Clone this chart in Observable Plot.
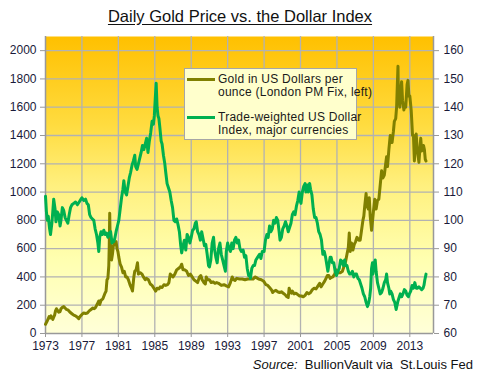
<!DOCTYPE html>
<html><head><meta charset="utf-8">
<script src="https://cdn.jsdelivr.net/npm/d3@7"></script>
<script src="https://cdn.jsdelivr.net/npm/@observablehq/plot@0.6"></script>
<style>
body{margin:0;width:480px;height:378px;background:#fff;position:relative;font-family:"Liberation Sans",Arial,sans-serif;overflow:hidden}
#title{height:30px;position:relative}
#title span{position:absolute;left:0;width:480px;text-align:center;top:7px;font-size:16.5px;color:#111;text-decoration:underline;text-underline-offset:2px}
#chart svg{display:block}
#caption{position:absolute;right:7px;top:357px;font-size:13px;color:#111}
#legend{position:absolute;left:184px;top:68px;width:173px;height:72px;background:#FFFFCC;border:1px solid #a6a6a6;box-sizing:border-box}
.item{position:absolute;left:2px;font-size:12px;line-height:13px;color:#1a1a1a;letter-spacing:0.25px}
.item .sw{position:absolute;left:0;top:5px;width:28px;height:3px}
.item .tx{position:absolute;left:31px;top:0;white-space:nowrap}
</style></head>
<body>
<div id="title"><span>Daily Gold Price vs. the Dollar Index</span></div>
<div id="chart"></div>
<div id="legend"></div>
<div id="caption"><i>Source:</i>&nbsp; BullionVault via&nbsp; St.Louis Fed</div>
<script>
const xTicks = [1973,1977,1981,1985,1989,1993,1997,2001,2005,2009,2013];
const leftTicks = [0,200,400,600,800,1000,1200,1400,1600,1800,2000];
const rightTicks = [60,70,80,90,100,110,120,130,140,150,160];
const seriesNames = ["Gold in US Dollars per\nounce (London PM Fix, left)", "Trade-weighted US Dollar\nIndex, major currencies"];
const seriesColors = ["#808000", "#00B050"];

const goldYears = [1973.0,1973.2,1973.4,1973.5,1973.6,1973.8,1973.9,1974.0,1974.1,1974.2,1974.3,1974.45,1974.6,1974.7,1974.85,1975.0,1975.15,1975.3,1975.5,1975.7,1975.9,1976.1,1976.3,1976.5,1976.65,1976.8,1977.0,1977.2,1977.4,1977.6,1977.8,1978.0,1978.2,1978.35,1978.5,1978.7,1978.85,1978.95,1979.1,1979.3,1979.5,1979.65,1979.75,1979.85,1979.95,1980.0,1980.05,1980.1,1980.2,1980.25,1980.35,1980.45,1980.6,1980.75,1980.85,1980.95,1981.05,1981.2,1981.35,1981.5,1981.65,1981.8,1981.95,1982.1,1982.3,1982.45,1982.55,1982.7,1982.8,1982.95,1983.1,1983.2,1983.4,1983.6,1983.75,1983.95,1984.1,1984.3,1984.5,1984.7,1984.9,1985.1,1985.25,1985.45,1985.6,1985.8,1986.0,1986.2,1986.4,1986.55,1986.7,1986.85,1987.0,1987.2,1987.4,1987.6,1987.8,1987.95,1988.1,1988.3,1988.5,1988.7,1988.9,1989.1,1989.3,1989.5,1989.7,1989.9,1990.05,1990.2,1990.4,1990.55,1990.65,1990.8,1991.0,1991.2,1991.4,1991.6,1991.8,1992.0,1992.3,1992.6,1992.9,1993.1,1993.3,1993.5,1993.65,1993.8,1994.0,1994.3,1994.6,1994.9,1995.2,1995.5,1995.8,1996.0,1996.15,1996.4,1996.7,1996.95,1997.2,1997.4,1997.6,1997.8,1997.95,1998.1,1998.3,1998.5,1998.7,1998.9,1999.1,1999.3,1999.5,1999.65,1999.75,1999.85,2000.0,2000.1,2000.3,2000.5,2000.7,2000.9,2001.1,2001.3,2001.5,2001.7,2001.9,2002.1,2002.3,2002.5,2002.7,2002.9,2003.1,2003.25,2003.45,2003.65,2003.8,2003.95,2004.1,2004.25,2004.35,2004.55,2004.75,2004.9,2005.0,2005.2,2005.4,2005.6,2005.8,2005.95,2006.1,2006.25,2006.35,2006.45,2006.6,2006.75,2006.9,2007.05,2007.2,2007.4,2007.55,2007.7,2007.85,2007.95,2008.05,2008.2,2008.3,2008.45,2008.55,2008.65,2008.8,2008.85,2009.0,2009.15,2009.3,2009.45,2009.6,2009.75,2009.9,2010.05,2010.2,2010.35,2010.45,2010.55,2010.7,2010.85,2010.95,2011.05,2011.2,2011.3,2011.45,2011.55,2011.65,2011.7,2011.75,2011.8,2011.9,2012.0,2012.1,2012.2,2012.35,2012.45,2012.55,2012.7,2012.8,2012.9,2013.0,2013.15,2013.3,2013.4,2013.5,2013.6,2013.7,2013.8,2013.9,2014.0,2014.1,2014.2,2014.3,2014.4,2014.5,2014.6,2014.7,2014.78];
const goldPrices = [65,90,120,110,125,100,115,130,160,175,165,150,155,175,185,190,180,170,165,150,140,130,125,115,105,120,135,145,142,145,160,170,180,175,185,210,230,205,235,245,280,300,380,390,480,620,850,660,560,520,560,620,640,650,600,580,540,490,470,430,440,400,400,380,340,320,300,400,440,450,500,420,430,420,400,380,390,380,350,340,320,300,320,315,330,325,345,340,345,360,420,410,400,420,450,460,470,490,450,450,440,410,420,400,380,370,360,400,410,380,360,350,400,380,380,360,365,355,360,355,340,345,335,330,360,400,380,375,390,385,385,380,385,385,385,400,395,385,380,370,345,340,325,310,290,300,305,295,290,295,285,275,260,255,320,300,285,300,280,285,275,265,265,260,270,290,280,290,310,320,315,335,355,330,350,370,390,410,410,390,395,400,420,450,430,430,430,440,480,510,560,610,710,580,640,590,630,650,680,660,660,730,800,830,900,990,900,880,960,830,730,760,860,950,880,940,950,1050,1150,1100,1120,1200,1250,1180,1300,1400,1380,1350,1430,1500,1520,1600,1800,1890,1640,1750,1600,1720,1780,1650,1580,1620,1600,1760,1790,1680,1680,1580,1400,1400,1220,1330,1410,1310,1260,1210,1300,1380,1290,1300,1330,1300,1230,1220];

const usdYears = [1973.0,1973.1,1973.2,1973.3,1973.45,1973.55,1973.7,1973.8,1973.9,1974.05,1974.15,1974.3,1974.45,1974.6,1974.7,1974.85,1975.0,1975.15,1975.3,1975.45,1975.6,1975.75,1975.9,1976.1,1976.3,1976.5,1976.7,1976.9,1977.0,1977.2,1977.4,1977.55,1977.7,1977.85,1978.0,1978.15,1978.3,1978.45,1978.6,1978.75,1978.85,1978.95,1979.1,1979.25,1979.4,1979.55,1979.7,1979.85,1980.0,1980.15,1980.3,1980.4,1980.5,1980.6,1980.75,1980.9,1981.05,1981.2,1981.35,1981.5,1981.6,1981.75,1981.9,1982.05,1982.2,1982.35,1982.5,1982.65,1982.8,1982.9,1983.05,1983.2,1983.35,1983.5,1983.65,1983.8,1983.95,1984.1,1984.25,1984.4,1984.55,1984.7,1984.85,1984.95,1985.05,1985.15,1985.25,1985.35,1985.45,1985.55,1985.7,1985.8,1985.95,1986.1,1986.2,1986.35,1986.5,1986.65,1986.8,1986.95,1987.1,1987.25,1987.4,1987.55,1987.7,1987.85,1987.95,1988.1,1988.25,1988.4,1988.55,1988.7,1988.85,1989.0,1989.15,1989.3,1989.45,1989.55,1989.7,1989.85,1990.0,1990.15,1990.3,1990.45,1990.6,1990.75,1990.9,1991.0,1991.15,1991.3,1991.45,1991.55,1991.7,1991.85,1992.0,1992.15,1992.3,1992.45,1992.6,1992.75,1992.85,1993.0,1993.15,1993.3,1993.45,1993.6,1993.75,1993.9,1994.05,1994.2,1994.35,1994.5,1994.7,1994.85,1995.0,1995.15,1995.3,1995.4,1995.5,1995.65,1995.8,1995.95,1996.1,1996.3,1996.5,1996.65,1996.8,1997.0,1997.15,1997.3,1997.45,1997.6,1997.75,1997.9,1998.05,1998.2,1998.35,1998.5,1998.65,1998.75,1998.9,1999.05,1999.2,1999.35,1999.5,1999.65,1999.8,1999.95,2000.1,2000.25,2000.4,2000.55,2000.7,2000.85,2000.95,2001.05,2001.2,2001.35,2001.5,2001.6,2001.75,2001.85,2002.0,2002.1,2002.25,2002.4,2002.55,2002.7,2002.85,2003.0,2003.15,2003.3,2003.45,2003.6,2003.75,2003.9,2004.0,2004.1,2004.25,2004.35,2004.5,2004.65,2004.8,2004.95,2005.1,2005.25,2005.4,2005.55,2005.7,2005.85,2005.95,2006.1,2006.25,2006.4,2006.55,2006.7,2006.85,2007.0,2007.15,2007.3,2007.45,2007.6,2007.75,2007.9,2008.05,2008.2,2008.35,2008.5,2008.6,2008.7,2008.8,2008.9,2008.95,2009.05,2009.2,2009.3,2009.45,2009.6,2009.75,2009.9,2010.05,2010.2,2010.35,2010.45,2010.55,2010.7,2010.8,2010.9,2011.05,2011.2,2011.35,2011.5,2011.6,2011.7,2011.85,2011.95,2012.1,2012.25,2012.4,2012.55,2012.7,2012.85,2012.95,2013.1,2013.25,2013.4,2013.55,2013.7,2013.85,2014.0,2014.15,2014.3,2014.45,2014.55,2014.65,2014.78];
const usdIndex = [108.5,103,100,101.5,97,95,99,103,107.5,104,99.5,103,102,98,100,104.5,103.5,101,100,99,102,104.5,105.5,106,106.5,105.5,106.5,107.5,108,107,107.5,106,105.5,102,101,100.5,100,97,95,92,89,94,96,95,96.5,95,95.5,94,95.5,96,92,93,92.5,93.5,96,98,100,104,108,111,114,110,109,112,115,117,119.5,121,123,119,118,120,122,124,126.5,125,127,129,124,128,131,135,134,137,143,148.5,140,137,136,133,128,127,123,120,117,113,111.5,110,107,104.5,100,99.5,100.5,98.5,96,91,88.5,91,93,89.5,95,94,92,94,96.5,97,99,99.5,96,95,93,96,93.5,91,91.5,88,84,83.5,86,92,94,90,87,85,90,92,88,86,84,82,89,92,90,89,92,90,93,94,92,93,90,89,89.5,87,87.5,83,80.5,81,79.5,83,84,84,86,87,88,86.5,89,89,93,95,94,98,96,97,100,99,101,100,96,93,94,97,98,99.5,98,96,97.5,99,102,103,102,105,107,110,107,106,110,112,113,110,112.5,110,113,111,109,104,101,101,99,96,95,93,88,89,87,84,82,84,87,87,85,85,82,80.5,82,83,86,85.5,84,86,84,84,82,81,81,82,80,81,81,79.5,79,77.5,76,74,73,71,69.5,71,73,76,83,85,81,84,86,82,78,76,74,74.5,76,78,79,81,78,76,74,75,74,72,71,68.5,70,71.5,73,74,73,74,75.5,75,73.5,73,74,75,77,76,78,76,76,76.5,76,75.5,76,77,79,81];

const gold = goldYears.map((t,i) => ({t, v: goldPrices[i]}));
const usd = usdYears.map((t,i) => ({t, v: usdIndex[i]}));
const xDomain = [1973, 2015.6];
const yDomain = [0, 2100];
const toLeft = v => (v - 60) * 20;

const svg = Plot.plot({
  width: 480, height: 325,
  marginTop: 6, marginLeft: 45, marginRight: 47, marginBottom: 22,
  style: {fontFamily: '"Liberation Sans", Arial, sans-serif', fontSize: "12px", color: "#1a1a3a", background: "transparent", overflow: "visible"},
  x: {domain: xDomain},
  y: {domain: yDomain},
  marks: [
    Plot.frame({fill: "url(#goldbg)", stroke: null}),
    Plot.gridX(xTicks.slice(1), {stroke: "#b2b2b2", strokeOpacity: 1, strokeWidth: 1.3}),
    Plot.gridY(leftTicks.slice(1), {stroke: "#b2b2b2", strokeOpacity: 1, strokeWidth: 1.3}),
    Plot.ruleX([xDomain[0], xDomain[1]], {stroke: "#999", strokeWidth: 1.5}),
    Plot.ruleY([yDomain[0]], {stroke: "#999", strokeWidth: 1.5}),
    Plot.axisX(xTicks, {tickFormat: d => String(d), tickSize: 4, tickPadding: 4, stroke: "#999", label: null, fill: "#1a1a3a"}),
    Plot.axisY(leftTicks, {anchor: "left", tickFormat: d => String(d), tickSize: 5, tickPadding: 4, stroke: "#999", label: null, fill: "#1a1a3a"}),
    Plot.axisY(rightTicks.map(toLeft), {anchor: "right", tickFormat: d => String(60 + d / 20), tickSize: 5, tickPadding: 5, stroke: "#999", label: null, fill: "#1a1a3a"}),
    Plot.line(gold, {x: "t", y: "v", stroke: seriesColors[0], strokeWidth: 3, strokeLinejoin: "round"}),
    Plot.line(usd, {x: "t", y: d => toLeft(d.v), stroke: seriesColors[1], strokeWidth: 3, strokeLinejoin: "round"})
  ]
});

const defs = d3.select(svg).insert("defs", ":first-child");
const grad = defs.append("linearGradient").attr("id", "goldbg").attr("x1", 0).attr("y1", 0).attr("x2", 0).attr("y2", 1);
[[0, "#FFC000"], [0.3, "#FFDC40"], [0.5, "#FFF07E"], [0.75, "#FFFFB0"], [1, "#FFFFD8"]].forEach(([o, c]) =>
  grad.append("stop").attr("offset", o).attr("stop-color", c));

document.getElementById("chart").appendChild(svg);

const legend = document.getElementById("legend");
seriesNames.forEach((name, i) => {
  const it = document.createElement("div");
  it.className = "item";
  it.style.top = (i === 0 ? 4 : 42) + "px";
  it.innerHTML = `<div class="sw" style="background:${seriesColors[i]}"></div><div class="tx">${name.replace("\n", "<br>")}</div>`;
  legend.appendChild(it);
});
</script>
</body></html>
